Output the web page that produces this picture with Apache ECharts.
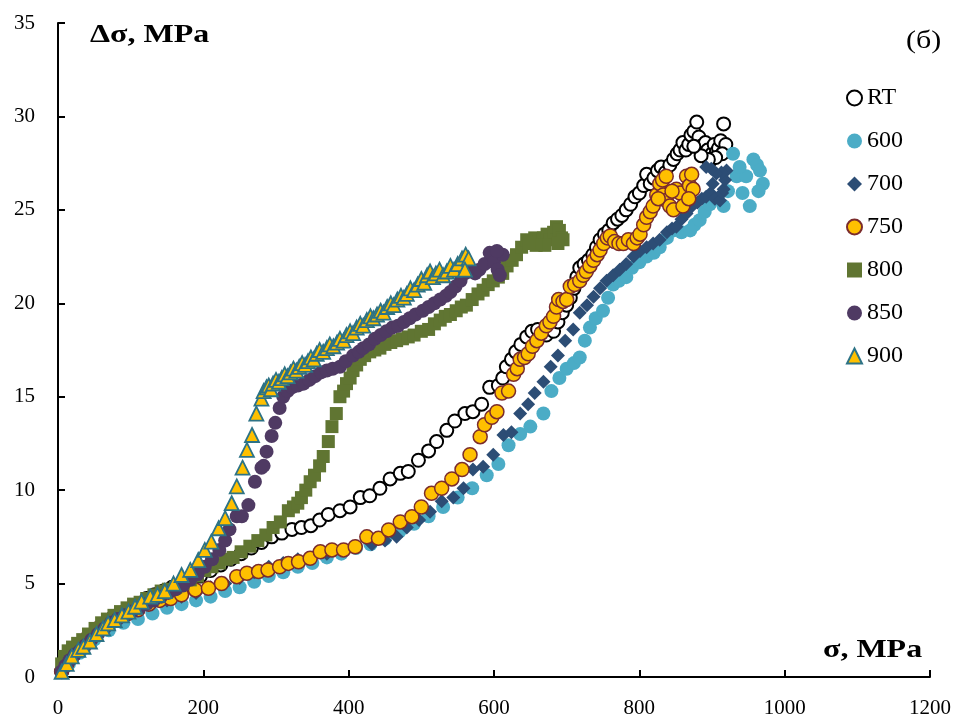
<!DOCTYPE html>
<html>
<head>
<meta charset="utf-8">
<script src="https://cdn.jsdelivr.net/npm/echarts@6/dist/echarts.min.js"></script>
<style>
  html, body { margin: 0; padding: 0; background: #fff; }
  #chart { width: 962px; height: 722px; }
</style>
</head>
<body>
<div id="chart"></div>
<script>
// Stress increment Δσ (MPa) versus stress σ (MPa) for each test temperature
const seriesNames = ['RT', '600', '700', '750', '800', '850', '900'];
const xTicks = [0, 200, 400, 600, 800, 1000, 1200];
const yTicks = [0, 5, 10, 15, 20, 25, 30, 35];

const dataRT = [[5,0.3],[10,0.6],[16,0.9],[22,1.2],[30,1.6],[38,1.9],[46,2.2],[55,2.5],[64,2.8],[73,3.1],[82,3.3],[92,3.5],[102,3.7],[112,3.9],[122,4.2],[133,4.4],[145,4.6],[157,4.8],[170,5.0],[183,5.2],[196,5.4],[210,5.7],[224,6.0],[238,6.3],[252,6.6],[266,6.9],[280,7.2],[294,7.5],[308,7.7],[322,7.9],[335,8.0],[348,8.1],[360,8.4],[372,8.7],[388,8.9],[402,9.1],[416,9.6],[429,9.7],[443,10.1],[457,10.6],[471,10.9],[482,11.0],[496,11.6],[510,12.1],[521,12.6],[535,13.2],[546,13.7],[560,14.1],[571,14.2],[583,14.6],[594,15.5],[606,15.6],[612,16.0],[617,16.6],[624,17.0],[630,17.4],[637,17.8],[645,18.2],[652,18.5],[660,18.6],[667,18.3],[672,18.3],[682,18.5],[688,19.0],[694,19.5],[700,19.9],[705,20.3],[710,20.8],[714,21.4],[718,21.9],[724,22.1],[730,22.3],[736,22.6],[741,23.0],[746,23.4],[752,23.7],[758,23.9],[764,24.3],[770,24.5],[776,24.7],[782,25.0],[788,25.3],[794,25.7],[800,25.9],[806,26.3],[810,26.9],[815,26.4],[820,26.7],[825,27.1],[830,27.3],[836,27.0],[842,27.4],[847,27.7],[852,28.0],[856,28.2],[860,28.6],[864,28.2],[868,28.5],[871,29.0],[875,29.2],[879,29.7],[882,28.9],[885,28.4],[888,28.0],[891,28.6],[894,28.2],[897,27.6],[900,28.0],[903,28.5],[906,28.1],[909,28.3],[912,28.7],[916,29.6],[919,28.5],[914,28.0],[905,27.8],[895,27.7],[885,27.9],[875,28.4]];

const data600 = [[5,0.3],[15,0.7],[30,1.3],[50,2.0],[70,2.5],[90,2.9],[110,3.1],[130,3.4],[150,3.7],[170,3.9],[190,4.1],[210,4.3],[230,4.6],[250,4.8],[270,5.1],[290,5.4],[310,5.6],[330,5.9],[350,6.1],[370,6.4],[390,6.6],[410,6.9],[430,7.1],[450,7.4],[470,7.8],[490,8.2],[510,8.6],[530,9.1],[550,9.6],[570,10.1],[590,10.8],[606,11.4],[620,12.4],[636,13.0],[650,13.4],[668,14.1],[679,15.3],[690,16.0],[700,16.5],[710,16.8],[718,17.1],[725,18.0],[732,18.7],[740,19.2],[750,19.6],[757,20.3],[764,21.0],[772,21.2],[782,21.4],[790,21.9],[800,22.2],[810,22.5],[820,22.7],[828,23.0],[838,23.5],[847,23.9],[858,23.8],[870,23.9],[876,24.2],[883,24.45],[890,24.9],[897,25.3],[905,25.6],[916,25.2],[922,26.0],[929,28.0],[934,26.8],[942,25.9],[947,26.8],[952,25.2],[957,27.7],[962,27.4],[966,27.1],[970,26.4],[964,26.0],[938,27.3]];

const data700 = [[5,0.3],[15,0.8],[28,1.4],[42,2.0],[58,2.5],[75,3.0],[92,3.3],[110,3.6],[130,3.9],[150,4.1],[170,4.3],[190,4.5],[210,4.8],[230,5.0],[250,5.3],[270,5.6],[290,5.9],[310,6.1],[330,6.3],[350,6.4],[370,6.6],[390,6.8],[410,7.0],[432,7.1],[450,7.3],[466,7.5],[480,8.0],[497,8.4],[512,8.85],[528,9.4],[544,9.6],[558,10.1],[571,11.1],[585,11.25],[599,11.9],[613,12.95],[624,13.1],[636,14.1],[647,14.6],[656,15.2],[668,15.8],[678,16.6],[688,17.2],[698,18.0],[709,18.6],[718,19.5],[728,19.9],[737,20.35],[746,20.8],[755,21.2],[764,21.5],[773,21.8],[782,22.1],[792,22.5],[801,22.8],[810,23.0],[819,23.2],[828,23.4],[838,23.8],[845,24.0],[851,24.1],[858,24.5],[865,24.8],[870,25.1],[874,25.35],[880,25.4],[886,25.6],[892,25.7],[898,25.9],[904,25.6],[911,25.5],[914,25.9],[916,26.1],[918,26.6],[920,27.1],[913,27.0],[906,26.95],[899,27.2],[892,27.3],[901,26.4]];

const data750 = [[5,0.3],[12,0.7],[20,1.2],[30,1.7],[42,2.2],[55,2.6],[68,2.9],[82,3.2],[96,3.4],[110,3.6],[125,3.9],[140,4.1],[155,4.2],[170,4.4],[189,4.66],[207,4.75],[225,5.0],[246,5.37],[260,5.55],[276,5.64],[289,5.73],[305,5.9],[317,6.08],[331,6.17],[347,6.35],[361,6.7],[377,6.8],[393,6.8],[409,6.97],[425,7.5],[441,7.42],[455,7.87],[471,8.3],[487,8.58],[500,9.1],[514,9.83],[528,10.1],[542,10.6],[556,11.1],[567,11.9],[581,12.86],[587,13.5],[597,13.9],[604,14.2],[611,15.2],[620,15.3],[627,16.2],[632,16.5],[636,17.0],[642,17.1],[647,17.3],[653,17.7],[659,18.0],[665,18.4],[672,18.8],[677,19.0],[682,19.3],[686,19.8],[689,20.2],[695,20.1],[700,20.2],[705,20.9],[711,21.0],[718,21.2],[723,21.5],[727,21.7],[732,22.0],[737,22.3],[742,22.6],[746,22.85],[751,23.2],[756,23.5],[760,23.6],[766,23.3],[772,23.2],[778,23.2],[785,23.4],[792,23.2],[797,23.5],[801,23.7],[806,24.2],[810,24.6],[815,24.9],[819,25.2],[824,25.8],[828,26.4],[832,26.6],[837,26.8],[833,25.8],[837,25.5],[842,25.2],[847,25.0],[851,26.1],[856,25.9],[860,25.2],[865,26.8],[869,26.3],[872,26.9],[874,26.1],[868,25.6],[845,26.0],[826,25.6]];

const data800 = [[5,0.7],[9,1.1],[14,1.4],[20,1.6],[27,1.8],[34,2.0],[42,2.3],[51,2.6],[60,2.9],[68,3.1],[77,3.3],[86,3.5],[95,3.7],[104,3.9],[113,4.0],[122,4.2],[132,4.4],[142,4.6],[152,4.7],[162,4.8],[172,5.0],[182,5.2],[192,5.4],[202,5.7],[212,5.9],[222,6.1],[232,6.3],[241,6.4],[252,6.7],[264,7.0],[275,7.3],[286,7.6],[296,8.0],[306,8.3],[317,8.9],[324,9.1],[330,9.3],[335,9.6],[341,10.0],[347,10.45],[353,10.8],[360,11.3],[365,11.8],[372,12.6],[377,13.4],[383,14.1],[388,15.0],[393,15.3],[397,15.7],[402,16.0],[406,16.4],[411,16.7],[416,17.0],[422,17.2],[429,17.4],[436,17.5],[443,17.6],[450,17.8],[458,17.9],[466,18.0],[474,18.1],[482,18.2],[490,18.3],[500,18.5],[510,18.6],[518,18.9],[526,19.1],[533,19.3],[540,19.4],[548,19.6],[555,19.8],[562,19.9],[570,20.2],[578,20.5],[585,20.7],[592,21.0],[599,21.2],[606,21.4],[612,21.6],[618,22.0],[625,22.3],[631,22.6],[638,23.0],[645,23.4],[650,23.3],[656,23.5],[662,23.3],[668,23.5],[673,23.7],[677,23.4],[682,23.8],[686,24.1],[690,23.9],[693,23.5],[695,23.4],[688,23.2],[670,23.1],[658,23.1],[648,23.2]];

const data850 = [[5,0.3],[10,0.6],[16,0.9],[23,1.2],[30,1.4],[38,1.7],[46,2.0],[55,2.3],[64,2.6],[73,2.9],[82,3.1],[92,3.3],[102,3.5],[112,3.7],[122,3.9],[132,4.1],[142,4.3],[152,4.5],[162,4.7],[172,4.9],[182,5.2],[192,5.5],[202,5.9],[212,6.3],[222,6.8],[230,7.3],[236,7.9],[246,8.6],[253,8.6],[262,9.2],[271,10.45],[280,11.2],[283,11.3],[287,12.06],[294,12.9],[299,13.6],[305,14.4],[310,15.0],[316,15.3],[322,15.5],[330,15.6],[338,15.7],[346,15.9],[354,16.1],[362,16.3],[370,16.4],[378,16.5],[388,16.6],[396,16.9],[406,17.2],[414,17.4],[420,17.6],[428,17.8],[436,18.1],[444,18.3],[452,18.5],[460,18.7],[468,18.8],[476,19.0],[484,19.2],[492,19.4],[502,19.6],[510,19.8],[518,20.0],[526,20.2],[534,20.4],[540,20.6],[547,20.9],[554,21.2],[560,21.6],[566,21.9],[574,21.6],[580,21.8],[587,22.1],[594,22.7],[600,22.2],[605,21.8],[608,21.5],[612,22.6],[604,22.8]];

const data900 = [[5,0.28],[12,0.7],[19,1.1],[28,1.45],[35,1.62],[44,1.9],[53,2.3],[62,2.6],[69,2.87],[78,3.05],[88,3.3],[97,3.5],[106,3.76],[115,4.03],[127,4.3],[137,4.4],[147,4.6],[159,5.0],[170,5.46],[182,5.73],[193,6.26],[202,6.8],[211,7.24],[221,7.96],[230,8.5],[239,9.3],[246,10.2],[254,11.2],[260,12.15],[267,12.95],[273,14.1],[280,14.9],[283,15.3],[287,15.5],[290,15.6],[293,15.4],[296,15.7],[300,15.9],[304,15.8],[308,16.0],[312,16.2],[316,16.1],[320,16.3],[324,16.5],[328,16.4],[332,16.6],[336,16.8],[340,16.7],[344,16.9],[348,17.1],[352,17.0],[356,17.3],[360,17.5],[365,17.4],[370,17.6],[374,17.8],[379,17.7],[384,17.9],[388,18.1],[393,18.0],[397,18.3],[402,18.5],[406,18.4],[411,18.7],[416,18.9],[420,18.8],[425,19.1],[430,19.3],[434,19.2],[439,19.4],[444,19.6],[448,19.5],[453,19.8],[458,20.0],[462,19.9],[467,20.2],[472,20.4],[476,20.3],[480,20.5],[485,20.8],[490,20.7],[495,21.0],[500,21.3],[504,21.1],[508,21.5],[512,21.7],[516,21.4],[520,21.6],[525,21.8],[530,21.5],[535,21.7],[540,22.0],[545,21.8],[550,22.1],[556,22.4],[561,22.6],[565,22.4],[560,21.8]];

const FONT = '"Liberation Serif", "Times New Roman", serif';

const styles = [
  { symbol: 'circle',   size: 13, color: '#ffffff', border: '#000000', bw: 2 },
  { symbol: 'circle',   size: 14, color: '#4BACC6', border: '#4BACC6', bw: 0 },
  { symbol: 'diamond',  size: 14, color: '#2C4D75', border: '#2C4D75', bw: 0 },
  { symbol: 'circle',   size: 14, color: '#FFC000', border: '#7B2C2C', bw: 1.5 },
  { symbol: 'rect',     size: 13, color: '#607532', border: '#607532', bw: 0 },
  { symbol: 'circle',   size: 14, color: '#4F3A63', border: '#4F3A63', bw: 0 },
  { symbol: 'triangle', size: 14, color: '#FFC000', border: '#2D7386', bw: 1.8 }
];
const allData = [dataRT, data600, data700, data750, data800, data850, data900];

const chart = echarts.init(document.getElementById('chart'), null, { renderer: 'canvas' });

const axisCommon = {
  type: 'value',
  axisLine: { show: true, onZero: false, lineStyle: { color: '#000', width: 2 } },
  axisTick: { show: true, inside: true, length: 7, lineStyle: { color: '#000', width: 2 } },
  splitLine: { show: false },
  axisLabel: { color: '#000', fontFamily: FONT, fontSize: 21, formatter: v => String(v) }
};

chart.setOption({
  animation: false,
  backgroundColor: '#ffffff',
  grid: { left: 58, right: 32, top: 23, bottom: 45, containLabel: false },
  xAxis: Object.assign({}, axisCommon, {
    min: xTicks[0], max: xTicks[xTicks.length - 1], interval: xTicks[1] - xTicks[0],
    axisLabel: Object.assign({}, axisCommon.axisLabel, { margin: 21 })
  }),
  yAxis: Object.assign({}, axisCommon, {
    min: yTicks[0], max: yTicks[yTicks.length - 1], interval: yTicks[1] - yTicks[0],
    axisLabel: Object.assign({}, axisCommon.axisLabel, { margin: 23 })
  }),
  legend: {
    orient: 'vertical',
    left: 841,
    top: 81,
    itemWidth: 15,
    itemHeight: 15,
    itemGap: 19,
    textStyle: { fontFamily: FONT, fontSize: 24, color: '#000' },
    data: seriesNames
  },
  graphic: [
    { type: 'text', left: 90, top: 23, scaleX: 1.28, originX: 0,
      style: { text: 'Δσ, MPa', font: 'bold 25px ' + FONT, fill: '#000' } },
    { type: 'text', left: 823, top: 638, scaleX: 1.28, originX: 0,
      style: { text: 'σ, MPa', font: 'bold 25px ' + FONT, fill: '#000' } },
    { type: 'text', left: 906, top: 29, scaleX: 1.2, originX: 0,
      style: { text: '(б)', font: '25px ' + FONT, fill: '#000' } }
  ],
  series: seriesNames.map((name, i) => ({
    name: name,
    type: 'scatter',
    data: allData[i],
    symbol: styles[i].symbol,
    symbolSize: styles[i].size,
    itemStyle: { color: styles[i].color, borderColor: styles[i].border, borderWidth: styles[i].bw, opacity: 1 },
    emphasis: { disabled: true },
    z: 2 + i
  }))
});
</script>
</body>
</html>
